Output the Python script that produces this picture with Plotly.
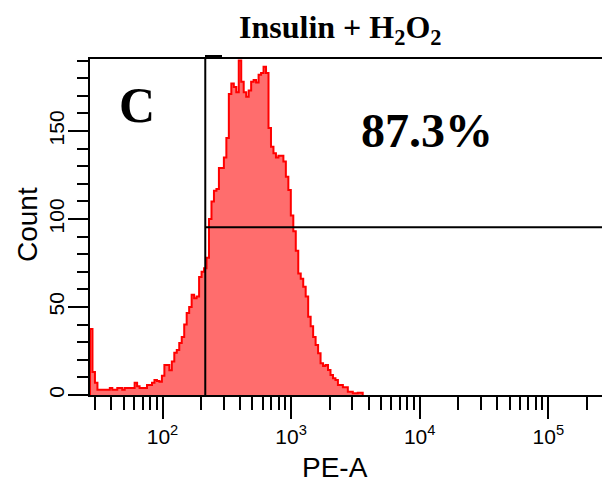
import numpy as np
import plotly.graph_objects as go

# ---- data ----
title_text = "<b>Insulin + H<sub>2</sub>O<sub>2</sub></b>"
panel_label = "C"
gate_percent = "87.3%"
gate_pe = 215          # vertical gate position (PE-A)
gate_count = 95.3      # horizontal gate position (Count)

# histogram bins (log10 PE-A), counts per bin
bin_start_log = 1.436
bin_width_log = 0.01928
counts = [37.5, 13, 7, 3, 3, 3, 3, 3, 4, 3,
          3, 4, 4, 3, 4, 4, 4, 4, 7, 5,
          4, 4, 4, 5.7, 5.7, 7, 8.5, 8, 7.5, 11,
          17, 17, 14, 19, 24, 25.5, 29.5, 33, 40, 46.6,
          50, 57, 55, 56, 67, 70, 72, 78, 100, 110,
          116, 117, 129, 129, 135, 146, 171, 177, 175, 172,
          190, 178, 172, 169.5, 173, 178, 179, 177.5, 182, 183,
          186.5, 183, 151.7, 141, 137.4, 135, 136, 136, 132.6, 124,
          116.5, 102, 93, 82, 69, 66, 61.5, 56, 44.5, 39,
          33, 28.4, 23.7, 18, 16.5, 17, 14.2, 11.4, 9.5, 8.5,
          5.7, 5.7, 4.4, 4.4, 1.9, 1.9, 1, 1, 1.3, 1.3]

x_range_log = [1.436, 5.4176]
y_range = [0, 190.9]
x_tickvals = [1e2, 1e3, 1e4, 1e5]
x_ticktext = ["10<sup>2</sup>", "10<sup>3</sup>", "10<sup>4</sup>", "10<sup>5</sup>"]
y_tickvals = [0, 50, 100, 150]

# ---- build step outline ----
n = len(counts)
edges = 10 ** (bin_start_log + bin_width_log * np.arange(n + 1))
xs = [edges[0]] + list(edges)
ys = [0] + list(counts) + [0]

minor_x = [k * 10 ** d for d in range(1, 6) for k in range(2, 10)
           if x_range_log[0] <= np.log10(k * 10 ** d) <= x_range_log[1]]

fig = go.Figure()
fig.add_trace(go.Scatter(
    x=xs, y=ys, mode="lines", line=dict(color="#ff0000", width=2, shape="hv"),
    fill="tozeroy", fillcolor="#ff6d6d", hoverinfo="skip", showlegend=False))

# gate lines
fig.add_trace(go.Scatter(x=[gate_pe, gate_pe], y=[0, y_range[1]], mode="lines",
                         line=dict(color="black", width=2), showlegend=False, hoverinfo="skip"))
fig.add_trace(go.Scatter(x=[gate_pe, 10 ** x_range_log[1]], y=[gate_count, gate_count], mode="lines",
                         line=dict(color="black", width=2), showlegend=False, hoverinfo="skip"))

W, H = 602, 484
ml, mr, mt, mb = 90, 0, 59, 89
pw, ph = W - ml - mr, H - mt - mb

def px(x):
    return (x - ml) / pw

def py(y):
    return (H - mb - y) / ph

xtick_font = dict(family="Liberation Sans, Arial, sans-serif", size=21, color="black")
ytick_font = dict(family="Liberation Sans, Arial, sans-serif", size=21, color="black")

fig.update_layout(
    width=W, height=H, margin=dict(l=ml, r=mr, t=mt, b=mb),
    paper_bgcolor="white", plot_bgcolor="white",
    xaxis=dict(type="log", range=x_range_log, showline=True, linecolor="black", linewidth=2,
               mirror=True, ticks="outside", ticklen=22, tickwidth=2, tickcolor="black",
               tickvals=x_tickvals, ticktext=x_ticktext, tickfont=xtick_font,
               showgrid=False, zeroline=False,
               minor=dict(tickvals=minor_x, ticks="outside", ticklen=13, tickwidth=2,
                          tickcolor="black", showgrid=False)),
    yaxis=dict(range=y_range, showline=True, linecolor="black", linewidth=2,
               ticks="outside", ticklen=20, tickwidth=2, tickcolor="black",
               tickvals=y_tickvals, tickangle=-90, tickfont=ytick_font,
               ticklabelstandoff=-4,
               showgrid=False, zeroline=False,
               minor=dict(dtick=10, tick0=0, ticks="outside", ticklen=11, tickwidth=2,
                          tickcolor="black", showgrid=False)),
    shapes=[dict(type="rect", xref="paper", yref="paper", x0=px(205), x1=px(222),
                 y0=py(59), y1=py(55), fillcolor="black", line=dict(width=0))],
    annotations=[
        dict(text=title_text, xref="paper", yref="paper", x=px(340), y=py(29),
             showarrow=False, xanchor="center", yanchor="middle",
             font=dict(family="Liberation Serif, Times New Roman, serif", size=32, color="black")),
        dict(text="<b>" + panel_label + "</b>", xref="paper", yref="paper", x=px(137), y=py(105),
             showarrow=False, xanchor="center", yanchor="middle",
             font=dict(family="Liberation Serif, Times New Roman, serif", size=50, color="black")),
        dict(text="<b>" + gate_percent + "</b>", xref="paper", yref="paper", x=px(427), y=py(130),
             showarrow=False, xanchor="center", yanchor="middle",
             font=dict(family="Liberation Serif, Times New Roman, serif", size=48, color="black")),
        dict(text="Count", xref="paper", yref="paper", x=px(27), y=py(225), textangle=-90,
             showarrow=False, xanchor="center", yanchor="middle",
             font=dict(family="Liberation Sans, Arial, sans-serif", size=28, color="black")),
        dict(text="PE-A", xref="paper", yref="paper", x=px(335), y=py(468),
             showarrow=False, xanchor="center", yanchor="middle",
             font=dict(family="Liberation Sans, Arial, sans-serif", size=28, color="black")),
    ],
)

fig.write_html("out.html")
